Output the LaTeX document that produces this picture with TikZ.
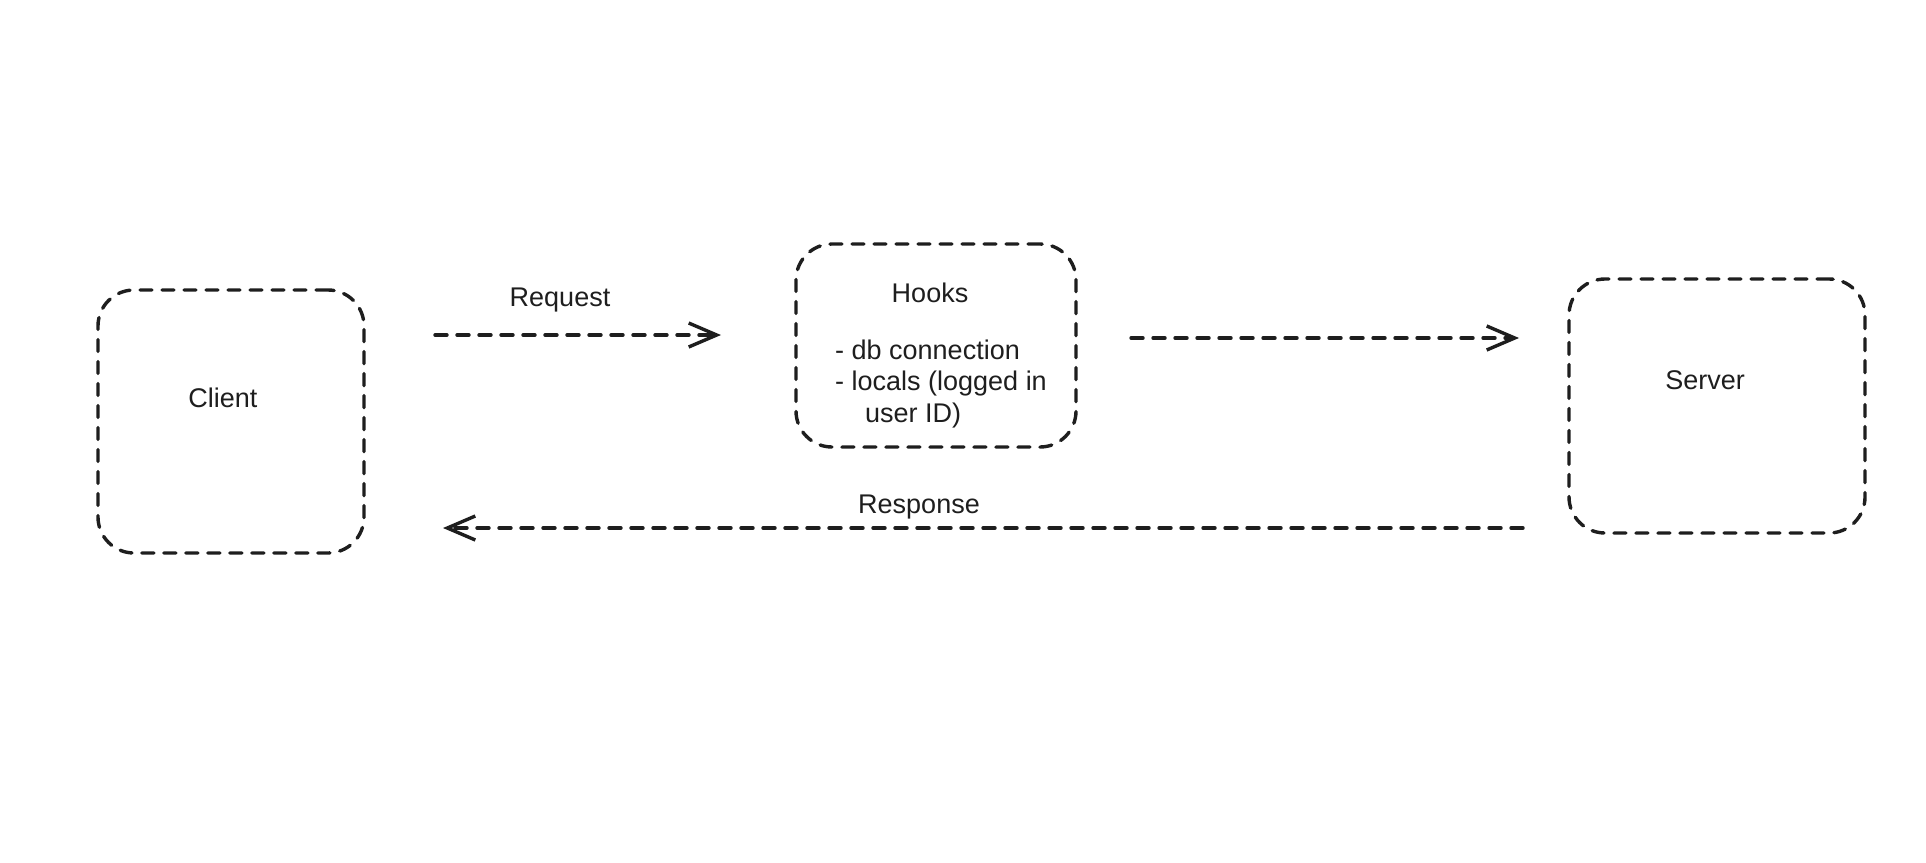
\documentclass[tikz,border=0pt]{standalone}
\usepackage{fontspec}
\setmainfont{Liberation Sans}
\usetikzlibrary{arrows.meta}
\definecolor{net}{HTML}{1E1E1E}
\begin{document}
\begin{tikzpicture}[x=1pt, y=-1pt, line join=round, line cap=round, font=\fontsize{27}{31}\selectfont,
	hop/.style={draw=net, line width=3.4pt, dash pattern=on 12pt off 10pt, rounded corners=36pt},
	luong/.style={draw=net, line width=3.4pt, dash pattern=on 12pt off 10pt, -{Straight Barb[length=28pt,width=24pt]}},
	chu/.style={anchor=base, inner sep=0pt, text=net}]
	\useasboundingbox (0,0) rectangle (1926,862);
	% cac hop
	\node[hop, minimum width=266pt, minimum height=263pt] (client) at (231,421.5) {};
	\node[hop, minimum width=280pt, minimum height=203pt] (hooks) at (936,345.5) {};
	\node[hop, minimum width=296pt, minimum height=254pt] (server) at (1717,406) {};
	% chu trong hop
	\node[chu] (clientchu) at (223,407.5) {Client};
	\node[chu] (serverchu) at (1705,389.5) {Server};
	\node[chu] (hookschu) at (930,302.5) {Hooks};
	\foreach \dx/\dy/\dong in {835/359.5/{- db connection}, 835/390.5/{- locals (logged in}, 865/422.5/{user ID)}}
		\node[chu, anchor=base west] at (\dx,\dy) {\dong};
	% dau mui ten
	\coordinate (req1) at (435,335);
	\coordinate (req2) at (721,335);
	\coordinate (fwd1) at (1131,338);
	\coordinate (fwd2) at (1519,338);
	\coordinate (res1) at (1523,528);
	\coordinate (res2) at (443,528);
	\draw[luong] (req1) -- (req2);
	\draw[luong] (fwd1) -- (fwd2);
	\draw[luong] (res1) -- (res2);
	\node[chu] (request) at (560,306.5) {Request};
	\node[chu] (response) at (919,513.5) {Response};
\end{tikzpicture}
\end{document}
